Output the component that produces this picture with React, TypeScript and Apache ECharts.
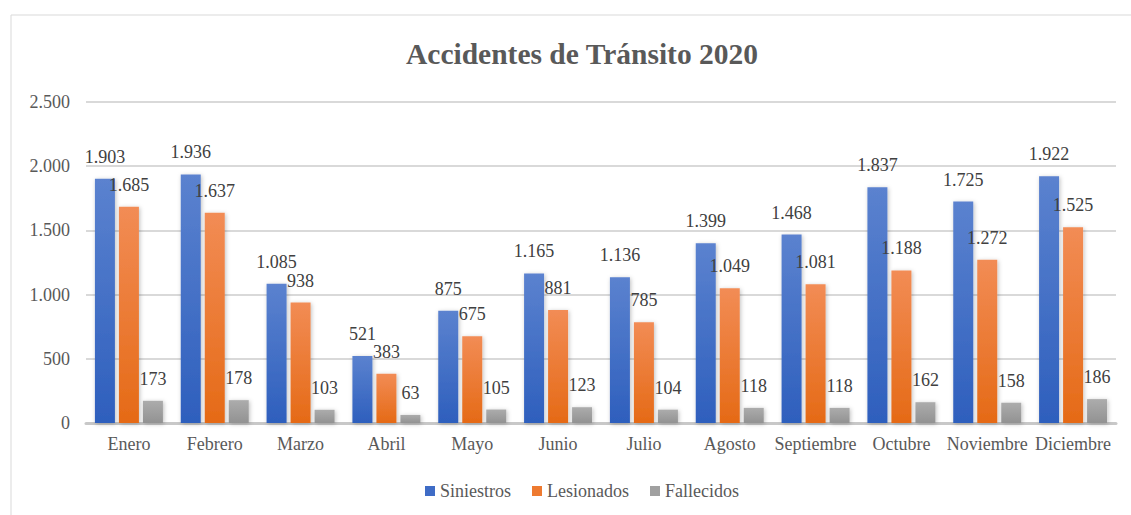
import React, { useEffect, useRef } from "react";
import * as echarts from "echarts";

const months = ["Enero", "Febrero", "Marzo", "Abril", "Mayo", "Junio", "Julio", "Agosto", "Septiembre", "Octubre", "Noviembre", "Diciembre"];
const siniestros = [1903, 1936, 1085, 521, 875, 1165, 1136, 1399, 1468, 1837, 1725, 1922];
const lesionados = [1685, 1637, 938, 383, 675, 881, 785, 1049, 1081, 1188, 1272, 1525];
const fallecidos = [173, 178, 103, 63, 105, 123, 104, 118, 118, 162, 158, 186];
const yTicks = [0, 500, 1000, 1500, 2000, 2500];

const fmt = (v: number) => String(v).replace(/\B(?=(\d{3})+(?!\d))/g, ".");
const FONT = "'Liberation Serif', 'Times New Roman', serif";

const grad = (top: string, bottom: string) =>
  new echarts.graphic.LinearGradient(0, 0, 0, 1, [
    { offset: 0, color: top },
    { offset: 1, color: bottom },
  ]);

export default function App() {
  const ref = useRef<HTMLDivElement>(null);
  useEffect(() => {
    if (!ref.current) return;
    const chart = echarts.init(ref.current, null, { renderer: "svg" });
    const mk = (name: string, data: number[], top: string, bottom: string, legendColor: string) => ({
      name,
      type: "bar",
      data,
      barWidth: 20,
      barGap: "20%",
      itemStyle: {
        color: grad(top, bottom),
        shadowColor: "rgba(0,0,0,0.25)",
        shadowBlur: 4,
        shadowOffsetX: 1,
        shadowOffsetY: 1,
      },
      label: {
        show: true,
        position: "top",
        distance: 13,
        fontFamily: FONT,
        fontSize: 18,
        color: "#404040",
        formatter: (p: any) => fmt(p.value),
      },
      legendColor,
    });
    const series = [
      mk("Siniestros", siniestros, "#5b82cf", "#2e5fbd", "#3f6cc6"),
      mk("Lesionados", lesionados, "#f28c55", "#e56a16", "#ee7a30"),
      mk("Fallecidos", fallecidos, "#acacac", "#929292", "#a0a0a0"),
    ];
    chart.setOption({
      animation: false,
      backgroundColor: "#fff",
      title: {
        text: "Accidentes de Tránsito 2020",
        left: 401,
        top: 34,
        textStyle: { fontFamily: FONT, fontSize: 29.5, fontWeight: "bold", color: "#595959" },
      },
      graphic: [
        {
          type: "rect",
          shape: { x: 11, y: 15, width: 1130, height: 520 },
          style: { fill: "none", stroke: "#d9d9d9", lineWidth: 1 },
          silent: true,
        },
      ],
      legend: {
        bottom: 10,
        left: 420,
        icon: "rect",
        itemWidth: 10,
        itemHeight: 10,
        itemGap: 21,
        textStyle: { fontFamily: FONT, fontSize: 18, color: "#595959" },
        data: series.map((s) => ({ name: s.name, itemStyle: { color: s.legendColor } })),
      },
      grid: { left: 86, right: 15, top: 102, bottom: 92, containLabel: false },
      xAxis: {
        type: "category",
        data: months,
        axisLine: { show: true, lineStyle: { color: "#c8c8c8", width: 3 } },
        axisTick: { show: false },
        axisLabel: { fontFamily: FONT, fontSize: 18, color: "#595959", margin: 12, interval: 0 },
      },
      yAxis: {
        type: "value",
        min: 0,
        max: yTicks[yTicks.length - 1],
        interval: 500,
        axisLine: { show: false },
        axisTick: { show: false },
        splitLine: { lineStyle: { color: "#d9d9d9", width: 2 } },
        axisLabel: { fontFamily: FONT, fontSize: 18, color: "#595959", margin: 16, formatter: (v: number) => fmt(v) },
      },
      series: series.map(({ legendColor, ...s }) => s),
    });
    return () => chart.dispose();
  }, []);
  return <div ref={ref} style={{ position: "fixed", left: 0, top: 0, width: 1131, height: 515 }} />;
}
